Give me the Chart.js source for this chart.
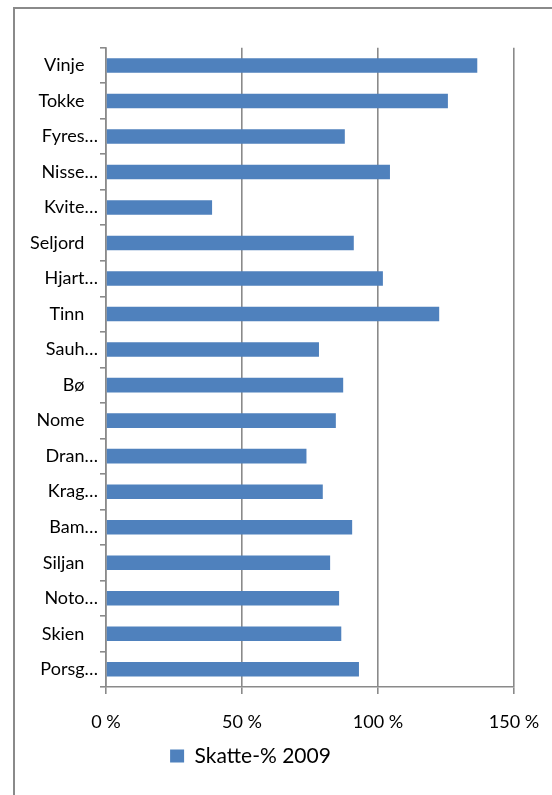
<!DOCTYPE html>
<html>
<head>
<meta charset="utf-8">
<script src="https://cdn.jsdelivr.net/npm/chart.js@4.4.1/dist/chart.umd.min.js"></script>
<style>
  html, body { margin: 0; padding: 0; background: #fff; }
  body { width: 552px; height: 795px; position: relative; overflow: hidden; }
  #frame { position: absolute; left: 13px; top: 7px; width: 600px; height: 900px;
           border-left: 2px solid #8a8a8a; border-top: 2px solid #8a8a8a; }
  #wrap { position: absolute; left: 0; top: 0; width: 552px; height: 795px; }
</style>
</head>
<body>
<div id="frame"></div>
<div id="wrap"><canvas id="c"></canvas></div>
<script>
const categories = ["Vinje", "Tokke", "Fyres…", "Nisse…", "Kvite…", "Seljord", "Hjart…", "Tinn", "Sauh…",
                    "Bø", "Nome", "Dran…", "Krag…", "Bam…", "Siljan", "Noto…", "Skien", "Porsg…"];
const seriesName = "Skatte-% 2009";
const skattePct = [136.5, 125.7, 87.8, 104.4, 39.0, 91.1, 101.8, 122.5, 78.3,
                   87.2, 84.5, 73.7, 79.7, 90.5, 82.4, 85.7, 86.5, 93.0];
const xTicks = [0, 50, 100, 150];

Chart.defaults.font.family = "Lato, 'Noto Sans', sans-serif";
Chart.defaults.color = "#000";

const legendShift = {
  id: 'legendShift',
  afterLayout(chart) {
    if (chart.legend) { chart.legend.left -= 13.5; chart.legend.right -= 13.5; }
  }
};

new Chart(document.getElementById('c'), {
  type: 'bar',
  data: {
    labels: categories,
    datasets: [{
      label: seriesName,
      data: skattePct,
      backgroundColor: '#4F81BD',
      borderWidth: 0,
      categoryPercentage: 1.0,
      barPercentage: 0.41
    }]
  },
  options: {
    indexAxis: 'y',
    responsive: true,
    maintainAspectRatio: false,
    animation: false,
    layout: { padding: { left: 14, top: 47.7, right: 38, bottom: 18.5 } },
    scales: {
      x: {
        min: 0, max: 150,
        afterBuildTicks(scale) { scale.ticks = xTicks.map(v => ({ value: v })); },
        afterFit(scale) { scale.height = 48.5; scale.paddingLeft = 0; scale.paddingRight = 0; },
        grid: { color: '#8a8a8a', lineWidth: 1.6, tickLength: 7, drawTicks: true },
        border: { display: true, color: '#8a8a8a', width: 1.6 },
        ticks: {
          padding: 17,
          font: { size: 18 },
          color: '#000',
          callback: v => v + ' %'
        }
      },
      y: {
        offset: true,
        afterFit(scale) { scale.width = 92; },
        grid: { display: true, drawOnChartArea: false, offset: true, color: '#8a8a8a', lineWidth: 1.6, tickLength: 6 },
        border: { display: true, color: '#8a8a8a', width: 1.6 },
        ticks: {
          padding: 2,
          autoSkip: false,
          font: { size: 18 },
          color: '#000',
          callback: function(v) {
            const l = this.getLabelForValue(v);
            return l.endsWith('…') ? l : l + '\u2002 ';
          }
        }
      }
    },
    plugins: {
      legend: {
        position: 'bottom',
        labels: { boxWidth: 14, boxHeight: 13, padding: 10, font: { size: 21 }, color: '#000' }
      },
      tooltip: { enabled: false }
    }
  },
  plugins: [legendShift]
});
</script>
</body>
</html>
